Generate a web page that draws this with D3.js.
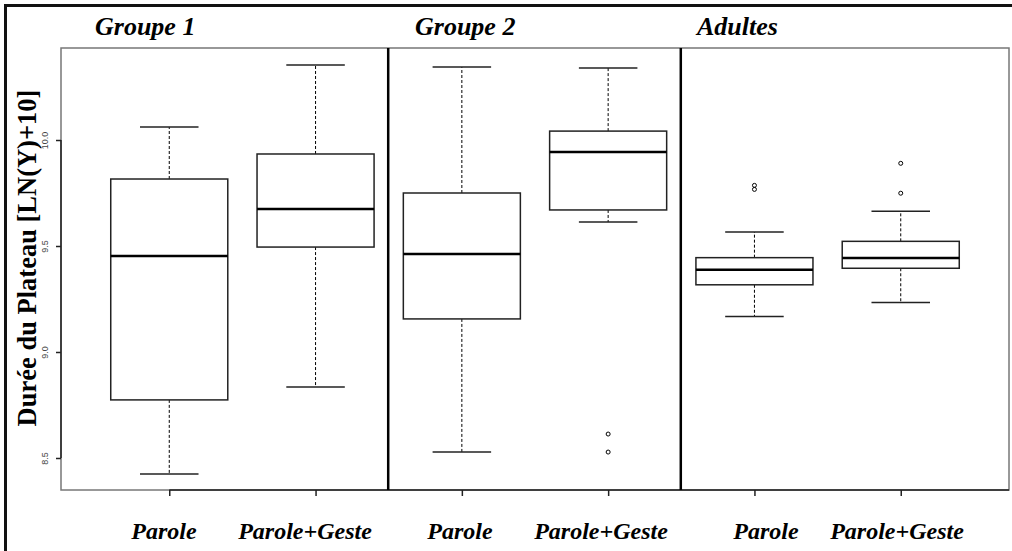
<!DOCTYPE html>
<html>
<head>
<meta charset="utf-8">
<script src="https://cdn.jsdelivr.net/npm/d3@7"></script>
<style>
  body { margin: 0; background: #fff; }
  svg { display: block; }
</style>
</head>
<body>
<div id="chart"></div>
<script>
// boxes, left to right
const groups = ["Groupe 1", "Groupe 2", "Adultes"];
const conditions = ["Parole", "Parole+Geste", "Parole", "Parole+Geste", "Parole", "Parole+Geste"];
const whiskLow = [8.425, 8.835, 8.528, 9.613, 9.167, 9.233];
const q1 = [8.774, 9.495, 9.156, 9.670, 9.317, 9.395];
const median = [9.453, 9.675, 9.462, 9.943, 9.388, 9.443];
const q3 = [9.816, 9.934, 9.750, 10.042, 9.445, 9.522];
const whiskHigh = [10.061, 10.354, 10.344, 10.340, 9.566, 9.664];
const outliers = [[], [], [], [8.613, 8.528], [9.786, 9.767], [9.890, 9.749]];
const yTicks = [8.5, 9.0, 9.5, 10.0];

const width = 1012, height = 551;
const pLeft = 61, pRight = 1009, pTop = 48, pBottom = 490;

const svg = d3.select("#chart").append("svg")
	.attr("width", width)
	.attr("height", height);

const x = d3.scaleLinear().domain([0.26, 6.74]).range([pLeft, pRight]);
const y = d3.scaleLinear().domain([8.349, 10.434]).range([pBottom, pTop]);
const boxW = 0.8, capW = 0.4;

// outer frame (only top and left visible)
svg.append("rect")
	.attr("x", 5.5).attr("y", 5.5)
	.attr("width", 1100).attr("height", 700)
	.attr("fill", "none").attr("stroke", "#111").attr("stroke-width", 3);

// plot frame
svg.append("rect")
	.attr("x", pLeft).attr("y", pTop)
	.attr("width", pRight - pLeft).attr("height", pBottom - pTop)
	.attr("fill", "none").attr("stroke", "#777").attr("stroke-width", 1.5);

// y axis
const yAxis = svg.append("g").attr("transform", `translate(${pLeft},0)`)
	.call(d3.axisLeft(y).tickValues(yTicks).tickFormat(d3.format(".1f")).tickSize(5).tickSizeOuter(0));
yAxis.select(".domain").attr("stroke", "#222").attr("stroke-width", 1.5)
	.attr("d", `M0,${y(8.5)}V${y(10)}`);
yAxis.selectAll(".tick line").attr("stroke", "#222").attr("stroke-width", 1.5);
yAxis.selectAll(".tick text")
	.attr("transform", "rotate(-90)")
	.attr("x", 0).attr("y", -13).attr("dy", 0)
	.attr("text-anchor", "middle")
	.style("font-family", "Liberation Sans, Arial, sans-serif")
	.style("font-size", "9px")
	.attr("fill", "#444");

// x axis ticks
const xAxis = svg.append("g").attr("transform", `translate(0,${pBottom})`)
	.call(d3.axisBottom(x).tickValues(d3.range(1, 7)).tickFormat("").tickSize(6).tickSizeOuter(0));
xAxis.select(".domain").attr("stroke", "#222").attr("stroke-width", 1.5)
	.attr("d", `M${x(1)},0H${pRight}`);
xAxis.selectAll(".tick line").attr("stroke", "#222").attr("stroke-width", 1.5);

// separators between groups
svg.selectAll(".sep")
	.data([2.5, 4.5])
	.enter().append("line")
	.attr("class", "sep")
	.attr("x1", d => x(d) - 0.5).attr("x2", d => x(d) - 0.5)
	.attr("y1", pTop).attr("y2", pBottom)
	.attr("stroke", "#000").attr("stroke-width", 2.5);

// boxes
const boxes = svg.selectAll(".box")
	.data(d3.range(6))
	.enter().append("g")
	.attr("class", "box");

boxes.append("line")
	.attr("x1", i => x(i + 1)).attr("x2", i => x(i + 1))
	.attr("y1", i => y(q3[i])).attr("y2", i => y(whiskHigh[i]))
	.attr("stroke", "#000").attr("stroke-dasharray", "3,2");
boxes.append("line")
	.attr("x1", i => x(i + 1)).attr("x2", i => x(i + 1))
	.attr("y1", i => y(q1[i])).attr("y2", i => y(whiskLow[i]))
	.attr("stroke", "#000").attr("stroke-dasharray", "3,2");
boxes.append("line")
	.attr("x1", i => x(i + 1 - capW / 2)).attr("x2", i => x(i + 1 + capW / 2))
	.attr("y1", i => y(whiskHigh[i])).attr("y2", i => y(whiskHigh[i]))
	.attr("stroke", "#222").attr("stroke-width", 1.5);
boxes.append("line")
	.attr("x1", i => x(i + 1 - capW / 2)).attr("x2", i => x(i + 1 + capW / 2))
	.attr("y1", i => y(whiskLow[i])).attr("y2", i => y(whiskLow[i]))
	.attr("stroke", "#222").attr("stroke-width", 1.5);
boxes.append("rect")
	.attr("x", i => x(i + 1 - boxW / 2))
	.attr("width", x(1 + boxW) - x(1))
	.attr("y", i => y(q3[i]))
	.attr("height", i => y(q1[i]) - y(q3[i]))
	.attr("fill", "#fff").attr("stroke", "#222").attr("stroke-width", 1.5);
boxes.append("line")
	.attr("x1", i => x(i + 1 - boxW / 2)).attr("x2", i => x(i + 1 + boxW / 2))
	.attr("y1", i => y(median[i])).attr("y2", i => y(median[i]))
	.attr("stroke", "#000").attr("stroke-width", 2.5);
boxes.each(function (i) {
	d3.select(this).selectAll("circle")
		.data(outliers[i])
		.enter().append("circle")
		.attr("cx", x(i + 1)).attr("cy", d => y(d))
		.attr("r", 2)
		.attr("fill", "none").attr("stroke", "#000").attr("stroke-width", 1);
});

// group titles
const titleX = [95, 415, 697];
svg.selectAll(".gtitle")
	.data(groups)
	.enter().append("text")
	.attr("class", "gtitle")
	.attr("x", (d, i) => titleX[i]).attr("y", 35)
	.style("font-family", "Liberation Serif, Times New Roman, serif")
	.style("font-weight", "bold").style("font-style", "italic")
	.style("font-size", "26px")
	.text(d => d);

// condition labels (hand placed under each box)
const labelX = [164, 305, 460, 601, 766, 897];
svg.selectAll(".clabel")
	.data(conditions)
	.enter().append("text")
	.attr("class", "clabel")
	.attr("x", (d, i) => labelX[i]).attr("y", 539)
	.attr("text-anchor", "middle")
	.style("font-family", "Liberation Serif, Times New Roman, serif")
	.style("font-weight", "bold").style("font-style", "italic")
	.style("font-size", "24px")
	.text(d => d);

// y title
svg.append("text")
	.attr("transform", "translate(36,258) rotate(-90)")
	.attr("text-anchor", "middle")
	.style("font-family", "Liberation Serif, Times New Roman, serif")
	.style("font-weight", "bold")
	.style("font-size", "26.5px")
	.text("Durée du Plateau [LN(Y)+10]");
</script>
</body>
</html>
